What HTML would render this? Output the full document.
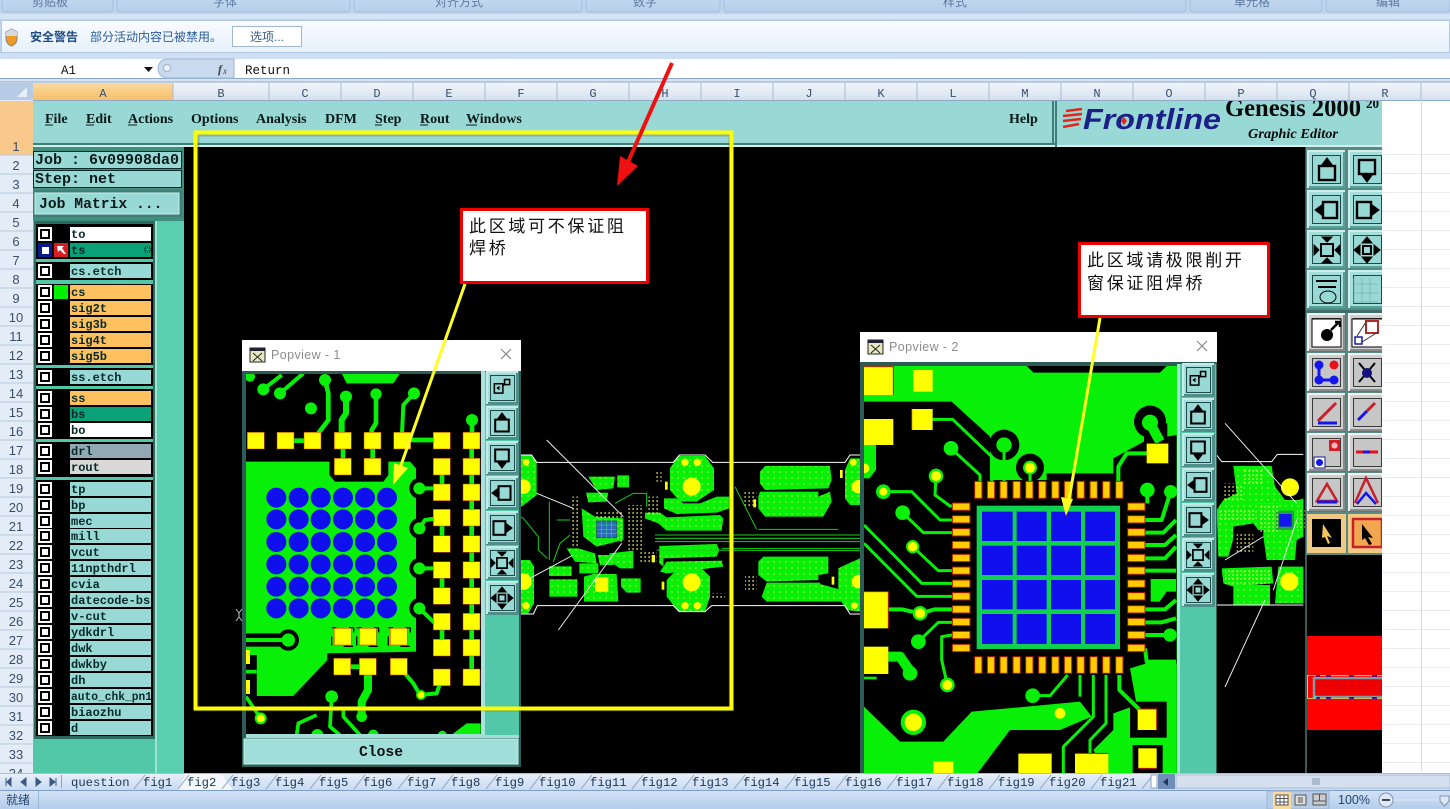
<!DOCTYPE html>
<html lang="zh"><head><meta charset="utf-8"><title>Genesis 2000</title>
<style>
html,body{margin:0;padding:0;background:#fff;width:1450px;height:809px;overflow:hidden}
svg{display:block}
.m{font-family:"Liberation Mono","Noto Sans CJK SC",monospace}
.s{font-family:"Liberation Serif",serif}
.c{font-family:"Liberation Sans","Noto Sans CJK SC",sans-serif}
.h{font-size:12px;fill:#3a4f6b;text-anchor:middle;font-family:"Liberation Mono",monospace}
.r{font-size:13px;fill:#3a4f6b;text-anchor:middle;font-family:"Liberation Sans",sans-serif}
.l{font-family:"Liberation Mono",monospace;font-size:12px;font-weight:bold;fill:#082828}
.t{font-family:"Liberation Mono",monospace;font-size:12.2px;fill:#18355a}
.menu{font-family:"Liberation Serif",serif;font-size:14px;font-weight:bold;fill:#0a1a1a}
</style></head><body>
<svg width="1450" height="809" viewBox="0 0 1450 809" xmlns="http://www.w3.org/2000/svg">
<defs>
<linearGradient id="rib" x1="0" y1="0" x2="0" y2="1"><stop offset="0" stop-color="#c5daf2"/><stop offset="1" stop-color="#b6cee9"/></linearGradient>
<linearGradient id="sec" x1="0" y1="0" x2="0" y2="1"><stop offset="0" stop-color="#f9fcff"/><stop offset="1" stop-color="#e6f0fb"/></linearGradient>
<linearGradient id="hd" x1="0" y1="0" x2="0" y2="1"><stop offset="0" stop-color="#f2f6fb"/><stop offset="1" stop-color="#d5e0ee"/></linearGradient>
<linearGradient id="hdo" x1="0" y1="0" x2="0" y2="1"><stop offset="0" stop-color="#f9d9a0"/><stop offset="1" stop-color="#f7bf69"/></linearGradient>
<linearGradient id="st" x1="0" y1="0" x2="0" y2="1"><stop offset="0" stop-color="#d3e2f6"/><stop offset="1" stop-color="#b4cdec"/></linearGradient>
<linearGradient id="tb" x1="0" y1="0" x2="0" y2="1"><stop offset="0" stop-color="#e9f1fb"/><stop offset="1" stop-color="#c9daf0"/></linearGradient>
<pattern id="dot" width="18" height="18" patternUnits="userSpaceOnUse"><rect width="18" height="18" fill="#08f008"/><rect x="4" y="4" width="4" height="4" fill="#c8f03a"/></pattern>
<pattern id="ydot" width="12" height="12" patternUnits="userSpaceOnUse"><rect x="1" y="1" width="5" height="4" fill="#e8e868"/></pattern>
<clipPath id="cp1"><rect x="246" y="374" width="235" height="360"/></clipPath>
<clipPath id="cp2"><rect x="864" y="366" width="313" height="407"/></clipPath>
<clipPath id="cpc"><rect x="184" y="147" width="1122" height="626"/></clipPath>
<clipPath id="cpt"><rect x="1306" y="147" width="76" height="626"/></clipPath>
<clipPath id="cpm"><rect x="33" y="101" width="1349" height="46"/></clipPath>
<g id="cb"><rect width="14" height="14" fill="#fff"/><rect x="3" y="3" width="8" height="8" fill="none" stroke="#000" stroke-width="2"/></g>
<rect id="pad1" x="-26" y="-25" width="51" height="50" fill="#ffff00" stroke="#c83c00" stroke-width="1.5"/>
<g id="btn"><rect width="33" height="34" fill="#4e8f8a"/><rect width="32" height="33" fill="#c3ece8"/><rect x="2" y="2" width="30" height="31" fill="#4e8f8a"/><rect x="2" y="2" width="28" height="29" fill="#a5dfdb"/><rect x="4.5" y="4.5" width="24" height="25" fill="#99d9d5" stroke="#1c4a48"/></g>
<g id="bt"><rect width="39" height="39" fill="#4e8f8a"/><rect width="38" height="38" fill="#cfeeeb"/><rect x="2" y="2" width="36" height="36" fill="#5a9e98"/><rect x="2" y="2" width="34" height="34" fill="#a5dfdb"/><rect x="5.5" y="5.5" width="28" height="28" fill="#99d9d5" stroke="#1c4a48"/></g>
<g id="bg"><rect width="39" height="39" fill="#707070"/><rect width="38" height="38" fill="#f0f0f0"/><rect x="2" y="2" width="36" height="36" fill="#8a8a8a"/><rect x="2" y="2" width="34" height="34" fill="#d0d0d0"/><rect x="5.5" y="5.5" width="28" height="28" fill="#c6c6c6" stroke="#3a3a3a"/></g>
<g id="iu" fill="none" stroke="#000" stroke-width="2.4"><rect x="-8" y="-4" width="16" height="14"/><path d="M-6-4 0-12 6-4Z" fill="#000" stroke-width="1"/></g>
<g id="id" fill="none" stroke="#000" stroke-width="2.4"><rect x="-8" y="-10" width="16" height="14"/><path d="M-6 4 0 12 6 4Z" fill="#000" stroke-width="1"/></g>
<g id="il" fill="none" stroke="#000" stroke-width="2.4"><rect x="-4" y="-8" width="14" height="16"/><path d="M-4-6-12 0-4 6Z" fill="#000" stroke-width="1"/></g>
<g id="ir" fill="none" stroke="#000" stroke-width="2.4"><rect x="-10" y="-8" width="14" height="16"/><path d="M4-6 12 0 4 6Z" fill="#000" stroke-width="1"/></g>
<g id="if" fill="none" stroke="#000" stroke-width="2"><rect x="-6" y="-6" width="12" height="12"/><path d="M-5-13 5-13 0-8ZM-5 13 5 13 0 8ZM-13-5-13 5-8 0ZM13-5 13 5 8 0Z" fill="#000" stroke-width="1"/></g>
<g id="ia" fill="none" stroke="#000" stroke-width="2"><rect x="-4" y="-4" width="8" height="8"/><path d="M-5-7 5-7 0-13ZM-5 7 5 7 0 13ZM-7-5-7 5-13 0ZM7-5 7 5 13 0Z" fill="#000" stroke-width="1"/></g>
<g id="ip" fill="none" stroke="#000" stroke-width="1.8"><rect x="-9" y="-5" width="10" height="11"/><rect x="3" y="-10" width="6" height="6"/><path d="M-6 0H-2M-6 0-3-2M-6 0-3 2M1-2 4-5" stroke-width="1.2"/></g>
<pattern id="grid" width="72" height="19" patternUnits="userSpaceOnUse" patternTransform="translate(1349 154)"><path d="M0 0H72" fill="none" stroke="#d0d7e5" stroke-width="1"/></pattern>
</defs>

<!-- ribbon -->
<rect width="1450" height="60" fill="#bfd5ee"/>
<g fill="url(#rib)" stroke="#a5c0de">
<rect x="2" y="-4" width="111" height="16" rx="3"/><rect x="117" y="-4" width="233" height="16" rx="3"/><rect x="354" y="-4" width="228" height="16" rx="3"/><rect x="586" y="-4" width="134" height="16" rx="3"/><rect x="724" y="-4" width="462" height="16" rx="3"/><rect x="1190" y="-4" width="132" height="16" rx="3"/><rect x="1326" y="-4" width="124" height="16" rx="3"/></g>
<g class="c" font-size="12" fill="#5d7aa0" text-anchor="middle">
<text x="50" y="6">剪贴板</text><text x="225" y="6">字体</text><text x="459" y="6">对齐方式</text><text x="645" y="6">数字</text><text x="955" y="6">样式</text><text x="1252" y="6">单元格</text><text x="1388" y="6">编辑</text></g>
<rect x="0" y="14" width="1450" height="5" fill="#d4e3f6"/>
<rect x="1.5" y="20.5" width="1448" height="32" fill="url(#sec)" stroke="#b3c9e2"/>
<path d="M6 32 11.500 29 17 32V39C17 43 14 45 11.500 46 9 45 6 43 6 39Z" fill="#f29a25" stroke="#7d8790"/>
<path d="M6 32 11.500 29 17 32V36H6Z" fill="#d6d9dc"/>
<text class="c" x="30" y="41" font-size="12" font-weight="bold" fill="#1c4a83">安全警告</text>
<text class="c" x="90" y="41" font-size="12" fill="#2a5c96">部分活动内容已被禁用。</text>
<rect x="232.500" y="26.500" width="69" height="20" fill="#fff" stroke="#9fb6ce"/>
<text class="c" x="267" y="41" font-size="12" fill="#3b5f87" text-anchor="middle">选项...</text>
<rect x="0" y="53" width="1450" height="6" fill="#cfdff3"/>
<!-- formula bar -->
<rect x="0" y="59" width="1450" height="19" fill="#fff"/>
<rect x="0" y="78" width="1450" height="4" fill="#d5e3f4"/>
<line x1="0" y1="78.500" x2="1450" y2="78.500" stroke="#8da9c6"/>
<text class="m" x="61" y="74" font-size="12.500" fill="#111">A1</text>
<path d="M144 67h9l-4.500 5z" fill="#111"/>
<path d="M234 59V78H168C161 78 158 73 158 68.500 158 64 161 59 168 59Z" fill="#c9d9ee" stroke="#9db5d1"/>
<circle cx="167" cy="68" r="3.500" fill="#eef3fa" stroke="#9fb2c9"/>
<text class="s" x="218" y="73" font-size="12" font-style="italic" font-weight="bold" fill="#444">f</text><text class="s" x="223" y="74" font-size="9" font-style="italic" fill="#444">x</text>
<text class="m" x="245" y="74" font-size="12.500" fill="#111">Return</text>

<!-- column headers -->
<rect x="0" y="82" width="1450" height="18.500" fill="url(#hd)"/>
<line x1="0" y1="82" x2="1450" y2="82" stroke="#8da9c6"/>
<rect x="0" y="83" width="33" height="17" fill="#b5cbe6"/><path d="M27 87V97H17Z" fill="#e8eff8"/>
<rect x="33" y="83" width="140" height="17" fill="url(#hdo)"/>
<path d="M173 83V100M269 83V100M341 83V100M413 83V100M485 83V100M557 83V100M629 83V100M701 83V100M773 83V100M845 83V100M917 83V100M989 83V100M1061 83V100M1133 83V100M1205 83V100M1277 83V100M1349 83V100M1421 83V100" stroke="#a9bbd0" fill="none"/>
<line x1="0" y1="100.500" x2="1450" y2="100.500" stroke="#8da9c6"/>
<g class="h">
<text x="103" y="97">A</text><text x="221" y="97">B</text><text x="305" y="97">C</text><text x="377" y="97">D</text><text x="449" y="97">E</text><text x="521" y="97">F</text><text x="593" y="97">G</text><text x="665" y="97">H</text><text x="737" y="97">I</text><text x="809" y="97">J</text><text x="881" y="97">K</text><text x="953" y="97">L</text><text x="1025" y="97">M</text><text x="1097" y="97">N</text><text x="1169" y="97">O</text><text x="1241" y="97">P</text><text x="1313" y="97">Q</text><text x="1385" y="97">R</text></g>
<!-- right sheet grid -->
<rect x="1382" y="101" width="68" height="672" fill="#fff"/>
<rect x="1382" y="154" width="68" height="619" fill="url(#grid)"/>
<line x1="1421.500" y1="100" x2="1421.500" y2="773" stroke="#d0d7e5"/>

<!-- row headers -->
<rect x="0" y="100" width="33" height="673" fill="#e4ecf7"/>
<rect x="0" y="101" width="33" height="54" fill="#f9c88b"/>
<path d="M0 155H33M0 174H33M0 193H33M0 212H33M0 231H33M0 250H33M0 269H33M0 288H33M0 307H33M0 326H33M0 345H33M0 364H33M0 383H33M0 402H33M0 421H33M0 440H33M0 459H33M0 478H33M0 497H33M0 516H33M0 535H33M0 554H33M0 573H33M0 592H33M0 611H33M0 630H33M0 649H33M0 668H33M0 687H33M0 706H33M0 725H33M0 744H33M0 763H33" stroke="#b5c7de"/>
<g class="r">
<text x="16" y="151">1</text><text x="16" y="170">2</text><text x="16" y="189">3</text><text x="16" y="208">4</text><text x="16" y="227">5</text><text x="16" y="246">6</text><text x="16" y="265">7</text><text x="16" y="284">8</text><text x="16" y="303">9</text><text x="16" y="322">10</text><text x="16" y="341">11</text><text x="16" y="360">12</text><text x="16" y="379">13</text><text x="16" y="398">14</text><text x="16" y="417">15</text><text x="16" y="436">16</text><text x="16" y="455">17</text><text x="16" y="474">18</text><text x="16" y="493">19</text><text x="16" y="512">20</text><text x="16" y="531">21</text><text x="16" y="550">22</text><text x="16" y="569">23</text><text x="16" y="588">24</text><text x="16" y="607">25</text><text x="16" y="626">26</text><text x="16" y="645">27</text><text x="16" y="664">28</text><text x="16" y="683">29</text><text x="16" y="702">30</text><text x="16" y="721">31</text><text x="16" y="740">32</text><text x="16" y="759">33</text><text x="16" y="778">34</text></g>

<!-- Genesis window -->
<rect x="33" y="101" width="1349" height="46" fill="#99d9d5"/>
<rect x="33" y="143" width="1023" height="2" fill="#3f7f7a"/><rect x="33" y="145" width="1349" height="2" fill="#d4f0ee"/>
<rect x="1052" y="101" width="2" height="44" fill="#3f7f7a"/><rect x="1055" y="101" width="2" height="46" fill="#3f7f7a"/>
<g class="menu">
<text x="45" y="123">File</text><text x="86" y="123">Edit</text><text x="128" y="123">Actions</text><text x="191" y="123">Options</text><text x="256" y="123">Analysis</text><text x="325" y="123">DFM</text><text x="375" y="123">Step</text><text x="420" y="123">Rout</text><text x="466" y="123">Windows</text><text x="1009" y="123">Help</text></g>
<path d="M45 125h8M86 125h8M128 125h9M375 125h7M420 125h8M466 125h11" stroke="#0a1a1a" fill="none"/>
<g clip-path="url(#cpm)">
<path d="M1082 109 1066 111M1082 114 1063 116M1081 119 1063 121M1079 124 1063 127" stroke="#e3241c" stroke-width="2.500" fill="none"/>
<text x="1083" y="129" font-family="Liberation Sans,sans-serif" font-size="29" font-weight="bold" font-style="italic" fill="#1b1f86" textLength="138" lengthAdjust="spacingAndGlyphs">Frontline</text>
<path d="M1124 117l3 4-3 4-3-4z" fill="#e3241c"/>
<text class="s" x="1225" y="116" font-size="25" font-weight="bold" fill="#0a0a0a" textLength="136" lengthAdjust="spacingAndGlyphs">Genesis 2000</text>
<text class="s" x="1366" y="108" font-size="13" font-weight="bold" fill="#0a0a0a">20</text>
<text class="s" x="1248" y="138" font-size="14" font-weight="bold" font-style="italic" fill="#0a0a0a" textLength="90" lengthAdjust="spacingAndGlyphs">Graphic Editor</text>
</g>

<!-- left panel -->
<rect x="33" y="147" width="151" height="626" fill="#52c8a8"/>
<rect x="33" y="147" width="151" height="74" fill="#3f8f7f"/>
<rect x="157" y="221" width="27" height="552" fill="#59cfb0"/><rect x="155" y="221" width="2" height="552" fill="#9fe3d0"/>
<rect x="33.500" y="151.500" width="148" height="17" fill="#99d9d5" stroke="#0b2a2a"/>
<rect x="33.500" y="170.500" width="148" height="17" fill="#99d9d5" stroke="#0b2a2a"/>
<text class="m" x="35" y="164" font-size="15" font-weight="bold" fill="#0a1a1a">Job : 6v09908da0</text>
<text class="m" x="35" y="183" font-size="15" font-weight="bold" fill="#0a1a1a">Step: net</text>
<rect x="33" y="190" width="149" height="27" fill="#3f7f78"/><rect x="35" y="193" width="144" height="21" fill="#99d9d5" stroke="#c8f0ec"/>
<text class="m" x="39" y="208" font-size="14.700" font-weight="bold" fill="#0a1a1a">Job Matrix ...</text>
<rect x="34" y="221" width="121" height="518" fill="#2f6a60"/>
<rect x="36" y="224" width="117" height="512" fill="#52c8a8"/>
<g fill="#000">
<rect x="36" y="224" width="117" height="35"/><rect x="36" y="262" width="117" height="18"/><rect x="36" y="284" width="117" height="81"/><rect x="36" y="368" width="117" height="18"/><rect x="36" y="389" width="117" height="50"/><rect x="36" y="442" width="117" height="35"/><rect x="36" y="480" width="117" height="256"/></g>
<g fill="#99d9d5">
<rect x="70" y="227" width="81" height="14" fill="#fff"/><rect x="70" y="243" width="81" height="14" fill="#0aa178"/><rect x="70" y="264" width="81" height="14"/>
<rect x="70" y="285" width="81" height="14" fill="#fdc25f"/><rect x="70" y="301" width="81" height="14" fill="#fdc25f"/><rect x="70" y="317" width="81" height="14" fill="#fdc25f"/><rect x="70" y="333" width="81" height="14" fill="#fdc25f"/><rect x="70" y="349" width="81" height="14" fill="#fdc25f"/>
<rect x="70" y="370" width="81" height="14"/><rect x="70" y="391" width="81" height="14" fill="#fdc25f"/><rect x="70" y="407" width="81" height="14" fill="#0aa178"/><rect x="70" y="423" width="81" height="14" fill="#fff"/>
<rect x="70" y="444" width="81" height="14" fill="#92a9b3"/><rect x="70" y="460" width="81" height="14" fill="#d8d8d8"/>
<rect x="70" y="482" width="81" height="14"/><rect x="70" y="498" width="81" height="14"/><rect x="70" y="514" width="81" height="14"/><rect x="70" y="529" width="81" height="14"/><rect x="70" y="545" width="81" height="14"/><rect x="70" y="561" width="81" height="14"/><rect x="70" y="577" width="81" height="14"/><rect x="70" y="593" width="81" height="14"/><rect x="70" y="609" width="81" height="14"/><rect x="70" y="625" width="81" height="14"/><rect x="70" y="641" width="81" height="14"/><rect x="70" y="657" width="81" height="14"/><rect x="70" y="673" width="81" height="14"/><rect x="70" y="689" width="81" height="14"/><rect x="70" y="705" width="81" height="14"/><rect x="70" y="721" width="81" height="14"/></g>
<use href="#cb" x="38" y="227"/>
<rect x="38" y="243" width="14" height="14" fill="#0a1a8a"/><rect x="42" y="247" width="7" height="7" fill="#fff"/>
<rect x="54" y="243" width="14" height="14" fill="#d81c24"/><path d="M57 246h7l-2 2 4 6h-2l-4-4-2 2z" fill="#fff"/>
<rect x="145" y="247" width="5" height="5" fill="none" stroke="#000" stroke-dasharray="1 1"/>
<use href="#cb" x="38" y="264"/><use href="#cb" x="38" y="285"/><rect x="54" y="285" width="14" height="14" fill="#00f000"/><use href="#cb" x="38" y="301"/><use href="#cb" x="38" y="317"/><use href="#cb" x="38" y="333"/><use href="#cb" x="38" y="349"/><use href="#cb" x="38" y="370"/><use href="#cb" x="38" y="391"/><use href="#cb" x="38" y="407"/><use href="#cb" x="38" y="423"/><use href="#cb" x="38" y="444"/><use href="#cb" x="38" y="460"/>
<use href="#cb" x="38" y="482"/><use href="#cb" x="38" y="498"/><use href="#cb" x="38" y="514"/><use href="#cb" x="38" y="529"/><use href="#cb" x="38" y="545"/><use href="#cb" x="38" y="561"/><use href="#cb" x="38" y="577"/><use href="#cb" x="38" y="593"/><use href="#cb" x="38" y="609"/><use href="#cb" x="38" y="625"/><use href="#cb" x="38" y="641"/><use href="#cb" x="38" y="657"/><use href="#cb" x="38" y="673"/><use href="#cb" x="38" y="689"/><use href="#cb" x="38" y="705"/><use href="#cb" x="38" y="721"/>
<g class="l">
<text x="71" y="238">to</text><text x="71" y="254">ts</text><text x="71" y="275">cs.etch</text><text x="71" y="296">cs</text><text x="71" y="312">sig2t</text><text x="71" y="328">sig3b</text><text x="71" y="344">sig4t</text><text x="71" y="360">sig5b</text><text x="71" y="381">ss.etch</text><text x="71" y="402">ss</text><text x="71" y="418">bs</text><text x="71" y="434">bo</text><text x="71" y="455">drl</text><text x="71" y="471">rout</text><text x="71" y="493">tp</text><text x="71" y="509">bp</text><text x="71" y="525">mec</text><text x="71" y="540">mill</text><text x="71" y="556">vcut</text><text x="71" y="572">11npthdrl</text><text x="71" y="588">cvia</text><text x="71" y="604">datecode-bs</text><text x="71" y="620">v-cut</text><text x="71" y="636">ydkdrl</text><text x="71" y="652">dwk</text><text x="71" y="668">dwkby</text><text x="71" y="684">dh</text><text x="71" y="700" textLength="81" lengthAdjust="spacingAndGlyphs">auto_chk_pn1</text><text x="71" y="716">biaozhu</text><text x="71" y="732">d</text></g>

<!-- canvas -->
<rect x="184" y="147" width="1122" height="626" fill="#000"/>
<g clip-path="url(#cpc)">
<!-- middle board -->
<g transform="translate(520,440) scale(.33333)">
<g fill="url(#dot)">
<path d="M0 45H35L50 65V165L5 200H0Z"/><path d="M0 360H30L42 380V490L25 520H0Z"/>
<path d="M450 85 475 48H555L582 85V150L530 185H480L450 150Z"/>
<path d="M432 175H470L490 190H540L590 170H628V205L590 218 470 222 432 205Z"/>
<path d="M375 218H420L440 232 600 225 610 235 605 272H440L415 250 375 235Z"/>
<path d="M418 318 590 312 598 330 590 350 430 355V380L418 370Z"/>
<path d="M440 365 605 362 610 380 440 400 420 395Z"/>
<path d="M475 385H545L570 410V470L555 515H475L440 470V420Z"/>
<path d="M205 110H285L280 145 230 150Z"/><rect x="292" y="106" width="35" height="36"/>
<path d="M198 158H265L260 185 205 187Z"/><path d="M185 205 225 230 310 235V300L230 320 190 290Z"/>
<path d="M140 325H175L225 340 230 370 165 365Z"/><rect x="178" y="370" width="57" height="30"/><path d="M233 345H280V375H240Z"/>
<path d="M268 340 340 332V385H300L270 365Z"/>
<rect x="87" y="379" width="68" height="29"/><rect x="88" y="418" width="84" height="52"/>
<path d="M192 410 220 402H290L295 485H192Z"/><path d="M303 415H362V458H320L303 440Z"/>
<path d="M735 78H930L935 120 925 145 735 150 720 130V95Z"/>
<path d="M720 155H895V170L930 155 935 185 910 230H735L715 205V170Z"/>
<path d="M730 350H925V400L895 405V420L740 425 715 405V365Z"/>
<path d="M740 428H900V432L965 450V485H740L725 470Z"/>
<path d="M990 55H1020V195H990L975 175V90Z"/><path d="M975 375 1020 355V515L980 510 955 470V385Z"/></g>
<g fill="#ffff00"><circle cx="10" cy="140" r="22"/><circle cx="18" cy="67" r="10"/><circle cx="10" cy="425" r="25"/><circle cx="18" cy="497" r="11"/><circle cx="515" cy="140" r="27"/><circle cx="495" cy="67" r="11"/><circle cx="532" cy="67" r="11"/><circle cx="515" cy="427" r="27"/><circle cx="495" cy="497" r="11"/><circle cx="532" cy="497" r="11"/><circle cx="1015" cy="140" r="20"/><circle cx="1000" cy="67" r="10"/><circle cx="1015" cy="425" r="20"/><circle cx="1003" cy="497" r="10"/><rect x="225" y="412" width="40" height="43"/><rect x="435" y="125" width="8" height="24"/><rect x="425" y="425" width="8" height="24"/><rect x="960" y="90" width="8" height="24"/><rect x="700" y="178" width="8" height="24"/><rect x="935" y="410" width="8" height="24"/><rect x="395" y="345" width="10" height="22"/></g>
<rect x="230" y="243" width="60" height="50" fill="#2a68b8" stroke="#206060" stroke-width="3"/>
<path d="M245 243V293M260 243V293M275 243V293M230 255H290M230 268H290M230 280H290" stroke="#3ec0a0" stroke-width="2" fill="none"/>
<g fill="url(#ydot)"><rect x="150" y="170" width="25" height="150"/><rect x="323" y="195" width="50" height="135"/><rect x="225" y="215" width="85" height="22"/><rect x="295" y="235" width="18" height="70"/><rect x="380" y="170" width="40" height="55"/><rect x="405" y="95" width="20" height="30"/><rect x="360" y="335" width="50" height="35"/><rect x="670" y="155" width="40" height="50"/><rect x="675" y="405" width="35" height="50"/><rect x="575" y="460" width="40" height="20"/></g>
<g fill="none" stroke="#12d012" stroke-width="3">
<path d="M405 285H1020M405 295H1020M405 305H1020M605 325H1020M410 330 1020 332M715 268H955M645 140 710 268M285 190 340 160H380V200M88 185V360M0 230 10 235 55 290V330L82 355M100 365 120 310 150 285M110 240H150"/></g>
<g fill="none" stroke="#fff" stroke-width="3">
<path d="M0 45H35L50 67H460L478 45H555L578 67H975L990 45H1020M0 522H40L52 497H460L478 515H555L575 497H975L990 522H1020"/></g>
<g fill="none" stroke="#f4f4f4" stroke-width="2.800"><path d="M80 0 310 230M50 160 160 205M30 415 160 345M115 570 305 310"/></g>
</g>

<!-- right board -->
<g transform="translate(1200,90) scale(.33333)">
<g fill="url(#dot)"><path d="M100 1128H215L225 1190 255 1230H295L310 1225V1340L290 1350 285 1410H200L190 1340 160 1300 100 1310V1345L85 1400H55L50 1260 70 1230 110 1210Z"/>
<path d="M65 1435 215 1430 220 1480 100 1490 70 1480Z"/><rect x="100" y="1485" width="110" height="60"/><path d="M235 1430H310V1540H225Z"/></g>
<circle cx="270" cy="1192" r="34" fill="#000"/><circle cx="270" cy="1192" r="27" fill="#ffff00"/>
<circle cx="268" cy="1475" r="27" fill="#ffff00"/>
<path d="M100 1320H190V1405H110Z" fill="#000"/>
<rect x="228" y="1262" width="54" height="58" fill="#22a040"/><rect x="237" y="1272" width="38" height="38" fill="#1515ee"/>
<g fill="url(#ydot)"><rect x="130" y="1135" width="60" height="50"/><rect x="70" y="1180" width="60" height="50"/><rect x="60" y="1260" width="110" height="30"/><rect x="180" y="1240" width="60" height="90"/><rect x="110" y="1330" width="50" height="60"/><rect x="290" y="1260" width="25" height="60"/><rect x="75" y="1440" width="135" height="40"/></g>
<g fill="none" stroke="#fff" stroke-width="3"><path d="M50 1095 65 1115H215L232 1093H310"/><path d="M50 1545H310"/></g>
<g fill="none" stroke="#f4f4f4" stroke-width="2.800"><path d="M75 1000 290 1240M75 1410 190 1340M220 1500 290 1290M75 1791 195 1530"/></g>
</g>
</g>

<!-- right toolbar -->
<rect x="1306" y="147" width="76" height="408" fill="#5a8a86"/>
<rect x="1305" y="147" width="1" height="626" fill="#3a5a58"/>
<rect x="1306" y="555" width="76" height="218" fill="#000"/>
<rect x="1306" y="310" width="76" height="3" fill="#3f6f6a"/>
<g clip-path="url(#cpt)">
<use href="#bt" x="1307" y="150"/><use href="#bt" x="1348" y="150"/><use href="#bt" x="1307" y="190"/><use href="#bt" x="1348" y="190"/><use href="#bt" x="1307" y="230"/><use href="#bt" x="1348" y="230"/><use href="#bt" x="1307" y="270"/><use href="#bt" x="1348" y="270"/>
<use href="#iu" x="1327" y="170"/><use href="#id" x="1367" y="170"/><use href="#il" x="1327" y="210"/><use href="#ir" x="1367" y="210"/><use href="#if" x="1327" y="250"/><use href="#ia" x="1367" y="250"/>
<path d="M1316 281H1337M1318 287H1336" stroke="#000" stroke-width="2" fill="none"/><ellipse cx="1328" cy="297" rx="8" ry="6" fill="none" stroke="#000"/>
<path d="M1354 278V302H1378M1354 284H1378M1354 293H1378M1362 278V302M1370 278V302" stroke="#7fbcb6" fill="none"/>
<use href="#bg" x="1307" y="313"/><use href="#bg" x="1348" y="313"/>
<rect x="1312" y="319" width="29" height="28" fill="#fff" stroke="#000"/><rect x="1352" y="319" width="32" height="28" fill="#fff" stroke="#000"/>
<circle cx="1327" cy="335" r="6" fill="#000"/><path d="M1331 330 1339 322M1335 322H1340V327" stroke="#000" stroke-width="2.500" fill="none"/>
<rect x="1366" y="321" width="12" height="12" fill="#fff" stroke="#b02a2a" stroke-width="2"/><rect x="1355" y="337" width="7" height="7" fill="#fff" stroke="#1a1a9a" stroke-width="1.500"/><path d="M1357 336 1366 322M1362 342 1378 332" stroke="#333" fill="none"/>
<use href="#bg" x="1307" y="353"/><use href="#bg" x="1348" y="353"/>
<path d="M1319 365V380H1334" stroke="#1515ee" stroke-width="3" fill="none"/><circle cx="1319" cy="365" r="4.500" fill="#1515ee"/><circle cx="1319" cy="380" r="4.500" fill="#1515ee"/><circle cx="1334" cy="380" r="4.500" fill="#1515ee"/><circle cx="1334" cy="365" r="4.500" fill="#e8101c"/>
<path d="M1359 363 1375 382M1375 363 1359 382" stroke="#000" stroke-width="2" fill="none"/><circle cx="1367" cy="373" r="5" fill="#12127a"/>
<use href="#bg" x="1307" y="393"/><use href="#bg" x="1348" y="393"/>
<path d="M1318 421 1336 403" stroke="#c8202a" stroke-width="3" fill="none"/><path d="M1318 423H1337" stroke="#1515ee" stroke-width="3" fill="none"/>
<path d="M1358 420 1367 411" stroke="#1515ee" stroke-width="3" fill="none"/><path d="M1367 411 1375 403" stroke="#c8202a" stroke-width="3" fill="none"/>
<use href="#bg" x="1307" y="433"/><use href="#bg" x="1348" y="433"/>
<rect x="1329" y="440" width="11" height="11" fill="#d81c24"/><circle cx="1334.500" cy="445.500" r="3" fill="#fbb"/><rect x="1314" y="457" width="11" height="11" fill="#fff" stroke="#1a1a9a"/><circle cx="1319.500" cy="462.500" r="3.500" fill="#1515ee"/>
<path d="M1356 452H1378" stroke="#e0101c" stroke-width="3" fill="none"/><path d="M1363 452H1370" stroke="#1515ee" stroke-width="3" fill="none"/>
<use href="#bg" x="1307" y="473"/><use href="#bg" x="1348" y="473"/>
<path d="M1317 501 1327 484 1337 501Z" fill="none" stroke="#c8202a" stroke-width="2.500"/><path d="M1317 502H1337" stroke="#1515ee" stroke-width="3"/>
<path d="M1355 503 1366 478 1378 503" fill="none" stroke="#c8202a" stroke-width="2.500"/><path d="M1357 504 1366 493 1376 504" fill="none" stroke="#1515ee" stroke-width="2.500"/>
<rect x="1307" y="514" width="39" height="39" fill="#f2c983"/><rect x="1312" y="519" width="29" height="28" fill="#000"/>
<rect x="1348" y="514" width="39" height="39" fill="#f2c983"/><rect x="1353" y="519" width="29" height="28" fill="#f2a64f" stroke="#c8202a" stroke-width="2.500"/>
<path d="M1323 524 1332 538 1327 536 1330 543 1328 544 1325 537 1322 538Z" fill="#f3c55f"/>
<path d="M1362 524 1373 538 1368 537 1372 544 1369 545 1365 538 1362 540Z" fill="#000"/>
<!-- red -->
<rect x="1306" y="636" width="76" height="94" fill="#ff0000"/>
<rect x="1307.500" y="675.500" width="80" height="23" fill="none" stroke="#e0c050"/>
<rect x="1314" y="678" width="80" height="19" fill="#ef0000" stroke="#7f9aa0" stroke-width="2.500"/>
<path d="M1316 676h4M1326 676h5M1349 676h5M1372 676h5M1316 698h4M1326 698h5M1349 698h5M1372 698h5" stroke="#55107a" stroke-width="2" fill="none"/>
<circle cx="1315" cy="697" r="1.500" fill="#30e0e0"/>
</g>
<rect x="1305" y="555" width="2" height="218" fill="#3a5a58"/>

<!-- Popview 1 -->
<rect x="242" y="371" width="279" height="396" fill="#2d5c56"/>
<rect x="246" y="374" width="273" height="391" fill="#9fded9"/>
<rect x="246" y="374" width="235" height="360" fill="#000"/>
<rect x="481" y="371" width="4" height="364" fill="#a9e3de"/>
<rect x="485" y="372" width="34" height="363" fill="#52c8a8"/>
<use href="#btn" x="486" y="371"/><use href="#btn" x="486" y="406"/><use href="#btn" x="486" y="441"/><use href="#btn" x="486" y="476"/><use href="#btn" x="486" y="511"/><use href="#btn" x="486" y="546"/><use href="#btn" x="486" y="581"/>
<use href="#ip" transform="translate(502 388) scale(.85)"/><use href="#iu" transform="translate(502 423) scale(.85)"/><use href="#id" transform="translate(502 458) scale(.85)"/><use href="#il" transform="translate(502 493) scale(.85)"/><use href="#ir" transform="translate(502 528) scale(.85)"/><use href="#if" transform="translate(502 563) scale(.85)"/><use href="#ia" transform="translate(502 598) scale(.85)"/>
<g clip-path="url(#cp1)"><g transform="translate(240,340) scale(.33333)">
<path d="M18 365H268V405L285 425H430L445 405V365H510L528 385V935L262 940V960L160 1068H50V945H18Z" fill="#08f008"/>
<g fill="#000"><circle cx="540" cy="445" r="32"/><circle cx="540" cy="565" r="32"/><circle cx="540" cy="685" r="32"/><circle cx="540" cy="805" r="32"/><rect x="528" y="300" width="200" height="900"/><path d="M18 880H145V920H18Z"/><circle cx="145" cy="900" r="32"/><rect x="18" y="945" width="32" height="240"/><path d="M50 1068H160L262 965V940H528V1185H50Z"/></g>
<g fill="#08f008">
<path d="M305 100H480L460 130H320Z"/><circle cx="30" cy="110" r="15"/><circle cx="255" cy="120" r="18"/><circle cx="70" cy="148" r="18"/><circle cx="120" cy="160" r="18"/><circle cx="213" cy="205" r="18"/><circle cx="318" cy="170" r="18"/><circle cx="408" cy="162" r="17"/><circle cx="522" cy="160" r="18"/><circle cx="696" cy="240" r="18"/><circle cx="538" cy="445" r="18"/><circle cx="538" cy="565" r="18"/><circle cx="538" cy="685" r="18"/><circle cx="538" cy="805" r="18"/><circle cx="145" cy="900" r="20"/><circle cx="275" cy="1070" r="19"/><circle cx="62" cy="1135" r="18"/><circle cx="543" cy="1065" r="15"/><circle cx="365" cy="1130" r="16"/><path d="M640 1180 680 1150H722V1185H640Z"/><circle cx="232" cy="1185" r="18"/><circle cx="400" cy="1185" r="16"/><circle cx="607" cy="1185" r="13"/></g>
<g fill="none" stroke="#08f008" stroke-linejoin="round">
<path stroke-width="12" d="M70 148 125 105M120 160 190 100M538 445H606M538 565 555 540 606 533M538 685H606M538 805 585 850H606M522 160 490 195 485 302M477 980 520 1030 540 1065 590 1060 606 1012M18 900H145"/>
<path stroke-width="14" d="M255 120 265 160V240L218 302M137 302H218M487 300H606M696 240V302M309 302V380M398 302V380M408 162V250L395 270V302M606 380V457M606 533V612M606 845V923M307 980H384M695 302V1012M606 690V768"/>
<path stroke-width="18" d="M318 170V220L305 240V302"/><path stroke-width="24" d="M384 980V1050L365 1085V1130"/>
<path stroke-width="11" d="M170 1185 175 1150 230 1125M275 1070 270 1160 300 1185M310 1110V1130L360 1185M18 1070 62 1135M18 995H50"/></g>
<g fill="none" stroke="#000" stroke-width="4" stroke-dasharray="14 38 14 0 14 44 14 0"><rect x="275" y="863" width="66" height="56"/><rect x="350" y="863" width="66" height="56"/><rect x="445" y="863" width="66" height="56"/></g>
<g>
<use href="#pad1" x="48" y="302"/><use href="#pad1" x="137" y="302"/><use href="#pad1" x="218" y="302"/><use href="#pad1" x="309" y="302"/><use href="#pad1" x="398" y="302"/><use href="#pad1" x="487" y="302"/>
<use href="#pad1" x="309" y="380"/><use href="#pad1" x="398" y="380"/>
<use href="#pad1" x="606" y="302"/><use href="#pad1" x="606" y="380"/><use href="#pad1" x="606" y="457"/><use href="#pad1" x="606" y="533"/><use href="#pad1" x="606" y="612"/><use href="#pad1" x="606" y="690"/><use href="#pad1" x="606" y="768"/><use href="#pad1" x="606" y="845"/><use href="#pad1" x="606" y="923"/><use href="#pad1" x="606" y="1012"/>
<use href="#pad1" x="695" y="302"/><use href="#pad1" x="695" y="380"/><use href="#pad1" x="695" y="457"/><use href="#pad1" x="695" y="533"/><use href="#pad1" x="695" y="612"/><use href="#pad1" x="695" y="690"/><use href="#pad1" x="695" y="768"/><use href="#pad1" x="695" y="845"/><use href="#pad1" x="695" y="923"/><use href="#pad1" x="695" y="1012"/>
<use href="#pad1" x="309" y="890"/><use href="#pad1" x="384" y="890"/><use href="#pad1" x="477" y="890"/><use href="#pad1" x="307" y="980"/><use href="#pad1" x="384" y="980"/><use href="#pad1" x="477" y="980"/></g>
<g fill="#ffff00"><rect x="18" y="930" width="12" height="42"/><rect x="18" y="1020" width="12" height="42"/><circle cx="62" cy="1135" r="12"/><circle cx="543" cy="1065" r="10"/></g>
<g fill="#1010ee">
<circle cx="109" cy="473" r="30"/><circle cx="176" cy="473" r="30"/><circle cx="242" cy="473" r="30"/><circle cx="309" cy="473" r="30"/><circle cx="375" cy="473" r="30"/><circle cx="441" cy="473" r="30"/>
<circle cx="109" cy="538" r="30"/><circle cx="176" cy="538" r="30"/><circle cx="242" cy="538" r="30"/><circle cx="309" cy="538" r="30"/><circle cx="375" cy="538" r="30"/><circle cx="441" cy="538" r="30"/>
<circle cx="109" cy="606" r="30"/><circle cx="176" cy="606" r="30"/><circle cx="242" cy="606" r="30"/><circle cx="309" cy="606" r="30"/><circle cx="375" cy="606" r="30"/><circle cx="441" cy="606" r="30"/>
<circle cx="109" cy="673" r="30"/><circle cx="176" cy="673" r="30"/><circle cx="242" cy="673" r="30"/><circle cx="309" cy="673" r="30"/><circle cx="375" cy="673" r="30"/><circle cx="441" cy="673" r="30"/>
<circle cx="109" cy="740" r="30"/><circle cx="176" cy="740" r="30"/><circle cx="242" cy="740" r="30"/><circle cx="309" cy="740" r="30"/><circle cx="375" cy="740" r="30"/><circle cx="441" cy="740" r="30"/>
<circle cx="109" cy="805" r="30"/><circle cx="176" cy="805" r="30"/><circle cx="242" cy="805" r="30"/><circle cx="309" cy="805" r="30"/><circle cx="375" cy="805" r="30"/><circle cx="441" cy="805" r="30"/></g>
</g></g>
<rect x="244" y="738" width="275" height="28" fill="#2d5c56"/>
<rect x="244" y="739" width="274" height="25" fill="#9fded9" stroke="#c8f0ec"/>
<text class="m" x="381" y="756" font-size="14.700" font-weight="bold" fill="#111" text-anchor="middle">Close</text>
<rect x="242" y="340" width="279" height="31" fill="#fff"/>
<rect x="250" y="348" width="15" height="14" fill="#e8e8c0" stroke="#222"/><rect x="250" y="348" width="15" height="3" fill="#223"/><path d="M253 353 262 361M262 353 253 361" stroke="#222"/>
<text class="c" x="271" y="359" font-size="12.500" fill="#8c8c8c" letter-spacing=".4">Popview - 1</text>
<path d="M501 349 511 359M511 349 501 359" stroke="#888" stroke-width="1.200" fill="none"/>
<path d="M236 609l3 4 3-4M236 621l3-4 3 4M239 613V617" stroke="#bbb" fill="none"/>

<!-- Popview 2 -->
<rect x="860" y="362" width="357" height="411" fill="#2d5c56"/>
<rect x="864" y="366" width="352" height="407" fill="#9fded9"/>
<rect x="1177" y="364" width="3" height="409" fill="#a9e3de"/>
<rect x="1180" y="364" width="36" height="409" fill="#52c8a8"/>
<use href="#btn" x="1182" y="363"/><use href="#btn" x="1182" y="398"/><use href="#btn" x="1182" y="433"/><use href="#btn" x="1182" y="468"/><use href="#btn" x="1182" y="503"/><use href="#btn" x="1182" y="538"/><use href="#btn" x="1182" y="573"/>
<use href="#ip" transform="translate(1198 380) scale(.85)"/><use href="#iu" transform="translate(1198 415) scale(.85)"/><use href="#id" transform="translate(1198 450) scale(.85)"/><use href="#il" transform="translate(1198 485) scale(.85)"/><use href="#ir" transform="translate(1198 520) scale(.85)"/><use href="#if" transform="translate(1198 555) scale(.85)"/><use href="#ia" transform="translate(1198 590) scale(.85)"/>
<g clip-path="url(#cp2)"><g transform="translate(860,340) scale(.33333)">
<rect x="12" y="70" width="940" height="1240" fill="#08f008"/>
<path d="M500 78H920L900 98H520Z" fill="#000"/>
<g fill="#000"><path d="M12 185H275L390 290V420H560V400H760V355L860 300 950 285V1310H12Z"/><circle cx="432" cy="315" r="46"/><circle cx="510" cy="383" r="42"/><circle cx="870" cy="245" r="48"/><rect x="852" y="250" width="70" height="60"/></g>
<circle cx="870" cy="248" r="24" fill="#08f008"/><path d="M870 250 900 305" stroke="#08f008" stroke-width="30" fill="none"/>
<g fill="#08f008"><path d="M12 1100 120 1205H250L335 1115 660 1085 695 1130 600 1170H450L345 1310H12Z"/>
<path d="M810 985 860 970H950V1310H745L700 1230 760 1170V1120L830 1095Z"/><rect x="872" y="717" width="76" height="68"/><path d="M12 315H48V390L28 415H12Z"/><path d="M12 1010H50V1018H12Z"/></g>
<g fill="#000"><rect x="810" y="1085" width="110" height="108"/><rect x="818" y="1215" width="90" height="85"/><path d="M345 1310 450 1175H600L700 1135 750 1005 770 1005 775 1060 750 1130V1170L690 1240 650 1310Z"/><path d="M920 755H948V790H895Z"/></g>
<g fill="none" stroke="#08f008" stroke-linejoin="round" stroke-width="9">
<path d="M218 238H278L395 350V424M273 325 360 405V424M432 315V424M510 383V424M228 408 225 465 270 498H277M70 455H155L240 540H277M128 518 190 578H277M158 620 235 692H277M12 555 185 730H277M12 610 170 769H277M175 905 235 847H277M262 1035 245 960V890L277 885M518 1067H570L623 1005M660 1005V1070M700 1005V1130L610 1220V1310M738 1005V1150L690 1200V1240"/>
<path stroke-width="12" d="M85 808H125L180 820 225 808H277M778 1005V1050L860 1130M890 340H800L775 380V424M855 692H948M855 808H915L948 780M855 847H905L948 835M855 885H948M932 455 905 540H855M948 540 910 578H855M948 585 915 615H855M948 620 915 655H855M862 450V490M855 925 860 965H948"/>
<path stroke-width="30" d="M85 950H120L155 1000"/><path stroke-width="10" d="M745 1225H810M750 1285 800 1310"/></g>
<g fill="#08f008"><circle cx="273" cy="325" r="22"/><circle cx="432" cy="315" r="23"/><circle cx="510" cy="383" r="21"/><circle cx="228" cy="408" r="22"/><circle cx="70" cy="455" r="22"/><circle cx="128" cy="518" r="22"/><circle cx="158" cy="620" r="20"/><circle cx="180" cy="820" r="22"/><circle cx="175" cy="905" r="22"/><circle cx="262" cy="1035" r="22"/><circle cx="160" cy="1147" r="38"/><circle cx="518" cy="1067" r="22"/><circle cx="862" cy="450" r="22"/><circle cx="932" cy="455" r="20"/><circle cx="930" cy="885" r="20"/><circle cx="150" cy="1000" r="22"/></g>
<g fill="#ffff00"><circle cx="510" cy="383" r="15"/><circle cx="228" cy="408" r="15"/><circle cx="70" cy="455" r="12"/><circle cx="158" cy="620" r="14"/><circle cx="180" cy="820" r="15"/><circle cx="262" cy="1035" r="15"/><circle cx="160" cy="1147" r="26"/><circle cx="600" cy="1120" r="16"/><circle cx="14" cy="385" r="14"/>
<rect x="12" y="80" width="88" height="85"/><rect x="160" y="90" width="58" height="65"/><rect x="155" y="207" width="63" height="63"/><rect x="12" y="237" width="88" height="78"/><rect x="12" y="755" width="73" height="110"/><rect x="12" y="920" width="73" height="82"/><rect x="860" y="310" width="65" height="60"/><rect x="833" y="1107" width="57" height="63"/><rect x="835" y="1225" width="55" height="60"/><rect x="475" y="1240" width="100" height="70"/><rect x="645" y="1240" width="100" height="70"/><rect x="220" y="1265" width="60" height="45"/></g>
<path d="M155 207V270M12 755H85V865M12 80H100V165M860 310H925M833 1107H890V1170M475 1240H575M645 1240H745M835 1285H890" stroke="#b81c00" stroke-width="3" fill="none"/>
<rect x="350" y="497" width="430" height="430" fill="#10d050"/>
<g fill="#1010ee"><rect x="366" y="515" width="92" height="88"/><rect x="470" y="515" width="90" height="88"/><rect x="573" y="515" width="90" height="88"/><rect x="675" y="515" width="90" height="88"/><rect x="366" y="617" width="92" height="88"/><rect x="470" y="617" width="90" height="88"/><rect x="573" y="617" width="90" height="88"/><rect x="675" y="617" width="90" height="88"/><rect x="366" y="720" width="92" height="88"/><rect x="470" y="720" width="90" height="88"/><rect x="573" y="720" width="90" height="88"/><rect x="675" y="720" width="90" height="88"/><rect x="366" y="822" width="92" height="90"/><rect x="470" y="822" width="90" height="90"/><rect x="573" y="822" width="90" height="90"/><rect x="675" y="822" width="90" height="90"/></g>
<g fill="#ffcc00" stroke="#a42000" stroke-width="3">
<rect x="344" y="424" width="22" height="51"/><rect x="382" y="424" width="22" height="51"/><rect x="420" y="424" width="22" height="51"/><rect x="459" y="424" width="22" height="51"/><rect x="497" y="424" width="22" height="51"/><rect x="536" y="424" width="22" height="51"/><rect x="575" y="424" width="22" height="51"/><rect x="613" y="424" width="22" height="51"/><rect x="651" y="424" width="22" height="51"/><rect x="690" y="424" width="22" height="51"/><rect x="728" y="424" width="22" height="51"/><rect x="767" y="424" width="22" height="51"/>
<rect x="344" y="950" width="22" height="50"/><rect x="382" y="950" width="22" height="50"/><rect x="420" y="950" width="22" height="50"/><rect x="459" y="950" width="22" height="50"/><rect x="497" y="950" width="22" height="50"/><rect x="536" y="950" width="22" height="50"/><rect x="575" y="950" width="22" height="50"/><rect x="613" y="950" width="22" height="50"/><rect x="651" y="950" width="22" height="50"/><rect x="690" y="950" width="22" height="50"/><rect x="728" y="950" width="22" height="50"/><rect x="767" y="950" width="22" height="50"/>
<rect x="277" y="489" width="53" height="22"/><rect x="277" y="527" width="53" height="22"/><rect x="277" y="566" width="53" height="22"/><rect x="277" y="604" width="53" height="22"/><rect x="277" y="643" width="53" height="22"/><rect x="277" y="681" width="53" height="22"/><rect x="277" y="720" width="53" height="22"/><rect x="277" y="758" width="53" height="22"/><rect x="277" y="797" width="53" height="22"/><rect x="277" y="835" width="53" height="22"/><rect x="277" y="874" width="53" height="22"/><rect x="277" y="913" width="53" height="22"/>
<rect x="803" y="489" width="52" height="22"/><rect x="803" y="527" width="52" height="22"/><rect x="803" y="566" width="52" height="22"/><rect x="803" y="604" width="52" height="22"/><rect x="803" y="643" width="52" height="22"/><rect x="803" y="681" width="52" height="22"/><rect x="803" y="720" width="52" height="22"/><rect x="803" y="758" width="52" height="22"/><rect x="803" y="797" width="52" height="22"/><rect x="803" y="835" width="52" height="22"/><rect x="803" y="874" width="52" height="22"/><rect x="803" y="913" width="52" height="22"/></g>
</g></g>
<rect x="860" y="332" width="357" height="30" fill="#fff"/>
<rect x="868" y="340" width="15" height="14" fill="#e8e8c0" stroke="#222"/><rect x="868" y="340" width="15" height="3" fill="#223"/><path d="M871 345 880 353M880 345 871 353" stroke="#222"/>
<text class="c" x="889" y="351" font-size="12.500" fill="#8c8c8c" letter-spacing=".4">Popview - 2</text>
<path d="M1197 341 1207 351M1207 341 1197 351" stroke="#888" stroke-width="1.200" fill="none"/>

<!-- annotations -->
<rect x="197" y="134" width="534" height="575" fill="none" stroke="#555" stroke-width="5" opacity=".3"/>
<rect x="195.500" y="132.500" width="536" height="576" fill="none" stroke="#ffff00" stroke-width="4"/>
<rect x="461.500" y="209.500" width="186" height="73" fill="#fff" stroke="#ee0000" stroke-width="3"/>
<text class="c" font-size="17" fill="#111" x="469" y="232" letter-spacing="2.700">此区域可不保证阻</text>
<text class="c" font-size="17" fill="#111" x="469" y="254" letter-spacing="2.700">焊桥</text>
<rect x="1079.500" y="243.500" width="189" height="73" fill="#fff" stroke="#ee0000" stroke-width="3"/>
<text class="c" font-size="17" fill="#111" x="1087" y="266" letter-spacing="2.700">此区域请极限削开</text>
<text class="c" font-size="17" fill="#111" x="1087" y="289" letter-spacing="2.700">窗保证阻焊桥</text>
<path d="M672 63 628 162" stroke="#ee1111" stroke-width="4" fill="none"/><path d="M617 186 620 156 638 166Z" fill="#ee1111"/>
<path d="M465 284 400 468" stroke="#ffff22" stroke-width="3" fill="none"/><path d="M393 485 394 463 408 468Z" fill="#ffff22"/>
<path d="M1100 318 1069 500" stroke="#ffff22" stroke-width="3" fill="none"/><path d="M1066 516 1061 497 1073 499Z" fill="#ffff22"/>

<!-- sheet tabs -->
<rect x="0" y="773" width="1450" height="17" fill="url(#tb)"/>
<rect x="1382" y="771" width="68" height="2" fill="#fff"/>
<line x1="0" y1="773.500" x2="1450" y2="773.500" stroke="#a9bfd9"/>
<path d="M6 778V786M7 782 11 778V786ZM21 782 26 778V786ZM36 778V786L41 782ZM50 778V786L55 782ZM56 778V786" fill="#3a5a84" stroke="#3a5a84" stroke-width="1"/>
<path d="M61.500 775V788" stroke="#8aa2c0"/>
<path d="M178 790 186 774H221L233 790Z" fill="#f4f8fd"/>
<path d="M134 789 145 775M178 789 189 775M222 789 233 775M266 789 277 775M310 789 321 775M354 789 365 775M398 789 409 775M442 789 453 775M486 789 497 775M530 789 541 775M581 789 592 775M632 789 643 775M683 789 694 775M734 789 745 775M785 789 796 775M836 789 847 775M887 789 898 775M938 789 949 775M989 789 1000 775M1040 789 1051 775M1091 789 1102 775M1142 789 1153 775" stroke="#8aa2c0" fill="none"/>
<g class="t">
<text x="71" y="786">question</text><text x="143" y="786">fig1</text><text x="187" y="786">fig2</text><text x="231" y="786">fig3</text><text x="275" y="786">fig4</text><text x="319" y="786">fig5</text><text x="363" y="786">fig6</text><text x="407" y="786">fig7</text><text x="451" y="786">fig8</text><text x="495" y="786">fig9</text><text x="539" y="786">fig10</text><text x="590" y="786">fig11</text><text x="641" y="786">fig12</text><text x="692" y="786">fig13</text><text x="743" y="786">fig14</text><text x="794" y="786">fig15</text><text x="845" y="786">fig16</text><text x="896" y="786">fig17</text><text x="947" y="786">fig18</text><text x="998" y="786">fig19</text><text x="1049" y="786">fig20</text><text x="1100" y="786">fig21</text></g>
<rect x="1151" y="775" width="6" height="13" fill="#fff" stroke="#8aa2c0"/>
<rect x="1158" y="774" width="17" height="15" fill="#6f8fb8"/><path d="M1168 778V786L1163 782Z" fill="#23395c"/>
<rect x="1176" y="775" width="274" height="13" fill="#d5dfed" stroke="#a9bfd9"/>
<path d="M1313 778V785M1315 778V785M1317 778V785M1319 778V785" stroke="#8597ae"/>
<!-- status bar -->
<rect x="0" y="790" width="1450" height="19" fill="url(#st)"/>
<line x1="0" y1="790.500" x2="1450" y2="790.500" stroke="#7f9fc4"/>
<text class="c" x="6" y="804" font-size="12" fill="#26466f">就绪</text>
<path d="M38.500 791V809" stroke="#9cb6d6"/>
<rect x="1267" y="791" width="62" height="18" fill="#b5cbe6" stroke="#9cb6d6"/>
<rect x="1273" y="792" width="18" height="17" fill="#f8d99e"/>
<rect x="1276" y="795" width="12" height="10" fill="#fff" stroke="#555"/><path d="M1280 795V805M1284 795V805M1276 798.500H1288M1276 802H1288" stroke="#555"/>
<rect x="1295" y="795" width="11" height="10" fill="#ddd" stroke="#555"/><path d="M1298 798H1303M1298 800H1303M1298 802H1303" stroke="#555"/>
<rect x="1313" y="794" width="13" height="11" fill="#ccc" stroke="#555"/><path d="M1319.500 794V801M1313 801H1326" stroke="#555"/>
<text class="c" x="1338" y="804" font-size="12.500" fill="#23456f">100%</text>
<circle cx="1386" cy="800" r="7" fill="#dfe8f4" stroke="#7f93ad"/><path d="M1382 800H1390" stroke="#3b4a5e" stroke-width="2"/>
<path d="M1394 800H1440" stroke="#dfe8f4"/><path d="M1440 796H1449V801L1444.500 806 1440 801Z" fill="#dfe8f4" stroke="#7f93ad"/>
</svg>
</body></html>
